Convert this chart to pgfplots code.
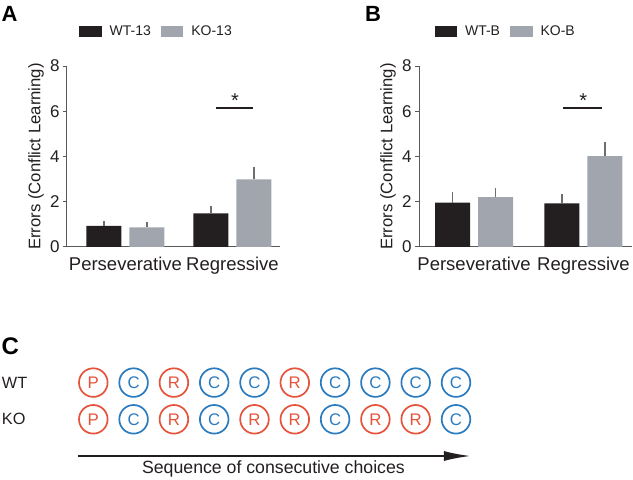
\documentclass[border=0pt]{standalone}
\usepackage{fontspec}
\setmainfont{Liberation Sans}
\usepackage{pgfplots}
\pgfplotsset{compat=1.18}
\usetikzlibrary{arrows.meta}
\definecolor{barblack}{HTML}{231F20}
\definecolor{bargray}{HTML}{A1A6AE}
\definecolor{errgray}{HTML}{6D6E71}
\definecolor{txt}{HTML}{231F20}
\definecolor{axisgray}{HTML}{58595B}
\definecolor{cred}{HTML}{E5533B}
\definecolor{cblue}{HTML}{2B7BBF}
\pgfplotsset{
  boxlegend/.style={legend image code/.code={\fill[##1] (0pt,-5.8pt) rectangle (22.5pt,5.8pt);}},
  barpanel/.style={
    scale only axis, width=213pt, height=181pt,
    ymin=0, ymax=8, ytick={0,2,4,6,8},
    xtick={0,1}, xticklabels={Perseverative,Regressive},
    axis x line=bottom, axis y line=left,
    axis line style={-, axisgray, line width=1pt},
    major tick length=4pt,
    tick align=outside,
    y tick style={axisgray, line width=1pt},
    x tick style={draw=none},
    yticklabel style={font=\fontsize{17}{20}\selectfont, text=txt},
    xticklabel style={font=\fontsize{18.5}{22}\selectfont, text=txt, yshift=-3pt},
    /pgf/number format/assume math mode=true,
    ylabel={Errors (Conflict Learning)},
    every axis y label/.style={at={(axis description cs:-0.1455,0.5)}, rotate=90, anchor=center, font=\fontsize{16.7}{20}\selectfont, text=txt},
    ybar, bar width=35pt,
    clip=false,
    legend columns=2,
    legend style={draw=none, fill=none, anchor=west, font=\fontsize{14}{16}\selectfont, text=txt, inner sep=0pt,
      nodes={inner sep=0pt},
      /tikz/every odd column/.append style={column sep=8pt},
      /tikz/every even column/.append style={column sep=10pt}},
  },
  errstyle/.style={error bars/.cd, y dir=plus, y explicit, error mark=none,
      error bar style={errgray, line width=1.5pt}},
}
\begin{document}
\begin{tikzpicture}[x=1pt,y=1pt]
\useasboundingbox (0,0) rectangle (633,480);
% Panel letters
\node[anchor=west, inner sep=0pt, font=\bfseries\fontsize{22}{24}\selectfont, text=black] at (1.5,466.5) {A};
\node[anchor=west, inner sep=0pt, font=\bfseries\fontsize{22}{24}\selectfont, text=black] at (365,466.5) {B};
\node[anchor=west, inner sep=0pt, font=\bfseries\fontsize{24}{26}\selectfont, text=black] at (1.5,133.5) {C};
% Panel A
\begin{axis}[barpanel, at={(67pt,233pt)}, anchor=south west, xmin=-0.5467, xmax=1.444,
  legend style={at={(axis description cs:0.056,1.19)}}]
\addplot[boxlegend, fill=barblack, draw=none, bar shift=-21.5pt, errstyle] coordinates {(0,0.93) +- (0,0.23) (1,1.49) +- (0,0.32)};
\addlegendentry{WT-13}
\addplot[boxlegend, fill=bargray, draw=none, bar shift=21.5pt, errstyle] coordinates {(0,0.87) +- (0,0.23) (1,2.99) +- (0,0.56)};
\addlegendentry{KO-13}
\addplot[txt, line width=1.5pt, sharp plot, no marks, forget plot] coordinates {(0.846,6.15) (1.192,6.15)};
\node[font=\fontsize{20}{22}\selectfont, text=txt, anchor=base] at (axis cs:1.023,6.18) {*};
\end{axis}
% Panel B
\begin{axis}[barpanel, at={(419pt,233pt)}, anchor=south west, xmin=-0.5023, xmax=1.443,
  legend style={at={(axis description cs:0.072,1.19)}}]
\addplot[boxlegend, fill=barblack, draw=none, bar shift=-21.5pt, errstyle] coordinates {(0,1.96) +- (0,0.48) (1,1.93) +- (0,0.41)};
\addlegendentry{WT-B}
\addplot[boxlegend, fill=bargray, draw=none, bar shift=21.5pt, errstyle] coordinates {(0,2.2) +- (0,0.39) (1,4.02) +- (0,0.63)};
\addlegendentry{KO-B}
\addplot[txt, line width=1.5pt, sharp plot, no marks, forget plot] coordinates {(0.813,6.15) (1.169,6.15)};
\node[font=\fontsize{20}{22}\selectfont, text=txt, anchor=base] at (axis cs:0.998,6.18) {*};
\end{axis}
% Panel C
\begin{axis}[at={(73.15pt,42.35pt)}, anchor=south west, x=40.3pt, y=36.7pt,
  xmin=0.5, xmax=10.5, ymin=-0.5, ymax=1.5, hide axis, clip=false, enlargelimits=false]
\addplot[only marks, mark=o, mark size=14.3pt, mark options={cred, line width=1.7pt},
  point meta=explicit symbolic, nodes near coords, nodes near coords align={center},
  every node near coord/.append style={anchor=center, text=cred, inner sep=0pt, font=\fontsize{16.8}{18}\selectfont}]
  coordinates {(1,1) [P] (3,1) [R] (6,1) [R] (1,0) [P] (3,0) [R] (5,0) [R] (6,0) [R] (8,0) [R] (9,0) [R]};
\addplot[only marks, mark=o, mark size=14.3pt, mark options={cblue, line width=1.7pt},
  point meta=explicit symbolic, nodes near coords, nodes near coords align={center},
  every node near coord/.append style={anchor=center, text=cblue, inner sep=0pt, font=\fontsize{16.8}{18}\selectfont}]
  coordinates {(2,1) [C] (4,1) [C] (5,1) [C] (7,1) [C] (8,1) [C] (9,1) [C] (10,1) [C] (2,0) [C] (4,0) [C] (7,0) [C] (10,0) [C]};
\addplot[txt, line width=2pt, no marks, -{Latex[length=27pt,width=10pt]}] coordinates {(0.62,-1.0) (10.37,-1.0)};
\node[anchor=west, inner sep=0pt, font=\fontsize{16.3}{18}\selectfont, text=txt] at (axis cs:-1.273,1) {WT};
\node[anchor=west, inner sep=0pt, font=\fontsize{16.3}{18}\selectfont, text=txt] at (axis cs:-1.273,0) {KO};
\node[font=\fontsize{17.7}{20}\selectfont, text=txt] at (axis cs:5.47,-1.362) {Sequence of consecutive choices};
\end{axis}
\end{tikzpicture}
\end{document}
